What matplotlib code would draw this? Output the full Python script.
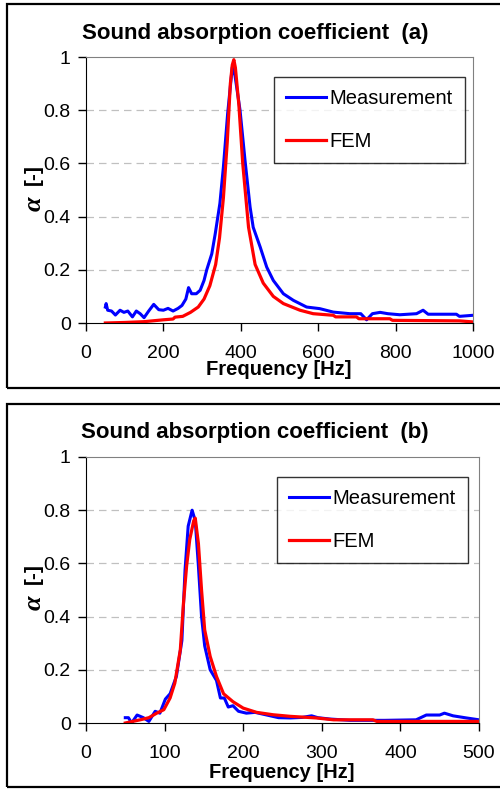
import matplotlib
matplotlib.use("Agg")
import matplotlib.pyplot as plt
from matplotlib.patches import Rectangle

plt.rcParams['font.family'] = ['Liberation Sans', 'DejaVu Sans']

# panel (a): 50-1000 Hz
freq_meas_a = [50, 52, 56, 66, 76, 88, 98, 108, 120, 130, 140, 150, 162, 175, 188,
               200, 212, 225, 238, 248, 258, 265, 273, 285, 295, 305, 312, 325, 334,
               346, 355, 366, 378, 385, 398, 411, 424, 432, 450, 467, 484, 510, 536,
               570, 604, 639, 682, 710, 725, 740, 760, 780, 811, 854, 871, 884, 920,
               957, 965, 1000]
alpha_meas_a = [0.06, 0.073, 0.048, 0.045, 0.03, 0.048, 0.04, 0.045, 0.023, 0.045,
                0.035, 0.02, 0.045, 0.07, 0.05, 0.048, 0.055, 0.045, 0.055, 0.066,
                0.09, 0.133, 0.11, 0.11, 0.123, 0.16, 0.2, 0.26, 0.336, 0.45, 0.586,
                0.787, 0.962, 0.93, 0.8, 0.61, 0.436, 0.36, 0.286, 0.21, 0.16, 0.11,
                0.085, 0.06, 0.054, 0.041, 0.035, 0.035, 0.012, 0.035, 0.04, 0.035,
                0.031, 0.035, 0.048, 0.033, 0.033, 0.033, 0.025, 0.029]

freq_fem_a = [50, 100, 150, 200, 225, 230, 250, 270, 290, 305, 320, 335, 345, 355,
              365, 373, 378, 382, 386, 395, 405, 420, 437, 458, 484, 510, 553, 587,
              639, 645, 699, 705, 785, 792, 965, 1000]
alpha_fem_a = [0.0, 0.002, 0.005, 0.012, 0.015, 0.022, 0.025, 0.04, 0.06, 0.09, 0.14,
               0.22, 0.32, 0.47, 0.68, 0.9, 0.97, 0.99, 0.96, 0.82, 0.6, 0.36, 0.22,
               0.15, 0.1, 0.073, 0.048, 0.035, 0.029, 0.023, 0.023, 0.016, 0.016,
               0.01, 0.008, 0.004]

# panel (b): 50-500 Hz
freq_meas_b = [50, 54, 58, 65, 73, 80, 88, 94, 101, 107, 115, 122, 126, 130, 135,
               139, 143, 147, 151, 158, 166, 171, 176, 181, 187, 194, 204, 215, 230,
               245, 260, 275, 287, 295, 310, 336, 380, 420, 433, 450, 456, 467, 484,
               500]
alpha_meas_b = [0.02, 0.02, 0.0, 0.03, 0.02, 0.006, 0.044, 0.037, 0.09, 0.11, 0.175,
                0.31, 0.575, 0.74, 0.8, 0.76, 0.59, 0.4, 0.29, 0.2, 0.16, 0.094,
                0.094, 0.06, 0.065, 0.044, 0.037, 0.04, 0.03, 0.02, 0.019, 0.021,
                0.027, 0.02, 0.015, 0.01, 0.01, 0.012, 0.03, 0.03, 0.037, 0.027,
                0.019, 0.012]

freq_fem_b = [50, 69, 80, 90, 99, 107, 113, 120, 124, 128, 132, 137, 139, 143, 147,
              151, 158, 166, 175, 187, 200, 217, 238, 260, 293, 315, 365, 370, 500]
alpha_fem_b = [0.0, 0.012, 0.02, 0.037, 0.05, 0.094, 0.15, 0.275, 0.45, 0.59, 0.69,
               0.76, 0.77, 0.675, 0.5, 0.35, 0.25, 0.175, 0.11, 0.08, 0.056, 0.04,
               0.031, 0.025, 0.019, 0.012, 0.012, 0.006, 0.006]

W, H = 500, 789
fig = plt.figure(figsize=(W / 100, H / 100), dpi=100)


def px_axes(left, top, right, bottom):
    return fig.add_axes([left / W, 1 - bottom / H, (right - left) / W, (bottom - top) / H])


def frame(top, bottom):
    fig.patches.append(Rectangle((7 / W, 1 - bottom / H), 1.1, (bottom - top) / H,
                                 transform=fig.transFigure, fill=False,
                                 edgecolor='black', linewidth=1.6))


def panel(ax, fm, am, ff, af, xmax, xstep, title, title_y, xl_x, xl_y):
    ax.plot(fm, am, color='#0000ff', lw=2.2, label='Measurement')
    ax.plot(ff, af, color='#ff0000', lw=2.3, label='FEM')
    ax.set_xlim(0, xmax)
    ax.set_ylim(0, 1)
    ax.set_xticks(range(0, xmax + 1, xstep))
    ax.set_yticks([0, 0.2, 0.4, 0.6, 0.8, 1])
    ax.set_yticklabels(['0', '0.2', '0.4', '0.6', '0.8', '1'])
    for y in [0.2, 0.4, 0.6, 0.8]:
        ax.axhline(y, color='#c0c0c0', lw=0.9, ls=(0, (6, 4)), zorder=0)
    for s in ['top', 'right']:
        ax.spines[s].set_color('#808080')
    for s in ['left', 'bottom']:
        ax.spines[s].set_color('black')
    ax.tick_params(axis='both', direction='out', length=6, width=1, labelsize=14)
    ax.tick_params(axis='x', pad=10)
    ax.tick_params(axis='y', pad=5)
    leg = ax.legend(loc='upper left', bbox_to_anchor=(0.486, 0.925), borderaxespad=0,
                    fontsize=14.5, fancybox=False, edgecolor='black',
                    handlelength=2.0, handletextpad=0.15, labelspacing=1.2,
                    borderpad=0.6)
    leg.get_frame().set_linewidth(1.0)
    fig.text(255 / W, 1 - title_y / H, title, ha='center', va='center',
             fontsize=16, fontweight='bold')
    fig.text(xl_x / W, 1 - xl_y / H, 'Frequency [Hz]', ha='center', va='center',
             fontsize=14.5, fontweight='bold')
    c = 1 - (title_y + 156) / H
    fig.text(33 / W, c + 15 / H, '[-]', rotation=90, ha='center', va='center',
             fontsize=15, fontweight='bold')
    fig.text(34 / W, c - 14 / H, 'α', rotation=90, ha='center', va='center',
             fontsize=19, fontweight='bold', fontstyle='italic',
             family=['Liberation Serif', 'DejaVu Serif'])


frame(4, 388)
frame(404, 787)

ax_a = px_axes(86, 57, 473, 323)
panel(ax_a, freq_meas_a, alpha_meas_a, freq_fem_a, alpha_fem_a, 1000, 200,
      'Sound absorption coefficient  (a)', 34, 279, 370)

ax_b = px_axes(86, 457, 479, 723)
panel(ax_b, freq_meas_b, alpha_meas_b, freq_fem_b, alpha_fem_b, 500, 100,
      'Sound absorption coefficient  (b)', 433, 282, 772)

fig.savefig('out.png', dpi=100)
